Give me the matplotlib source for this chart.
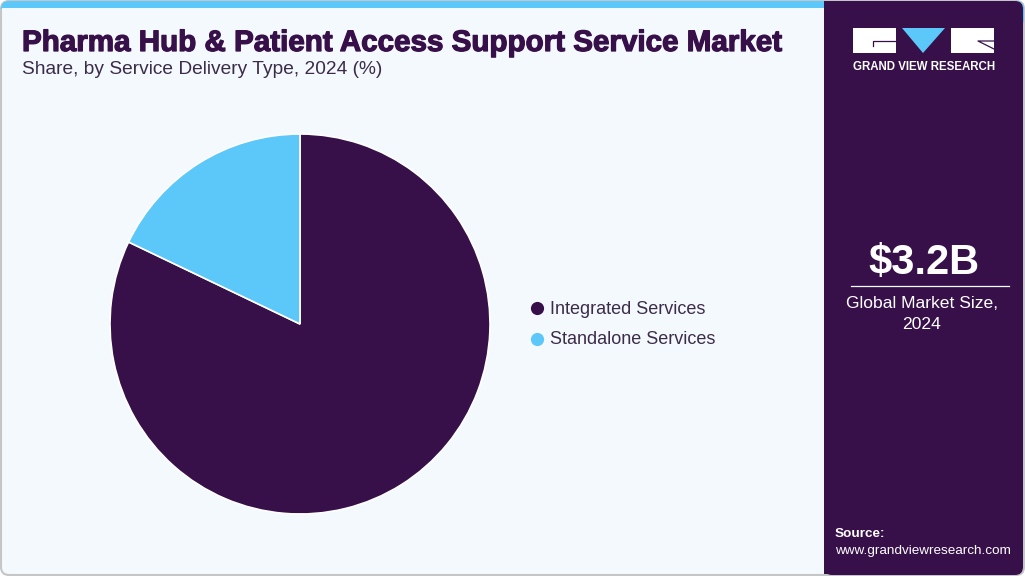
import matplotlib
matplotlib.use("Agg")
import matplotlib.pyplot as plt
import matplotlib.patheffects as pe
from matplotlib.patches import FancyBboxPatch, Polygon, Rectangle

# values
segments = ["Integrated Services", "Standalone Services"]
shares = [82.1, 17.9]
seg_colors = ["#37104a", "#5bc8f9"]

title = "Pharma Hub & Patient Access Support Service Market"
subtitle = "Share, by Service Delivery Type, 2024 (%)"
market_size = "$3.2B"
market_label = "Global Market Size,\n2024"

W, H = 1025, 576
DARK = "#37104a"
BLUE = "#5bc8f9"

plt.rcParams["font.family"] = ["Liberation Sans", "DejaVu Sans"]

fig = plt.figure(figsize=(W / 100, H / 100), dpi=100, facecolor="white")

# background layer in pixel coordinates, y going down
bg = fig.add_axes([0, 0, 1, 1])
bg.set_xlim(0, W)
bg.set_ylim(H, 0)
bg.axis("off")

bg.add_patch(FancyBboxPatch((9, 9), W - 18, H - 18, boxstyle="round,pad=8,rounding_size=8",
                            fc="#f3f9fd", ec="#c4c6c8", lw=1.5))
bg.add_patch(FancyBboxPatch((9, 9), W - 18, 10, boxstyle="round,pad=8,rounding_size=8",
                            fc=BLUE, ec="none"))
bg.add_patch(Rectangle((2, 8), 822, 20, fc="#f3f9fd", ec="none"))
bg.plot([1, 1], [10, 30], color="#c4c6c8", lw=1.5)

# right panel
bg.add_patch(FancyBboxPatch((832, 9), W - 842, H - 18, boxstyle="round,pad=8,rounding_size=8",
                            fc=DARK, ec="none"))
bg.add_patch(Rectangle((824, 1), 12, H - 3, fc=DARK, ec="none"))

# logo
bg.add_patch(Rectangle((853, 28), 43, 25, fc="white", ec="none"))
bg.plot([896, 873, 873], [41, 41, 46], color=DARK, lw=0.9)
bg.add_patch(Polygon([[902, 28], [945, 28], [923, 53]], fc=BLUE, ec="none"))
bg.add_patch(Rectangle((951, 28), 43, 25, fc="white", ec="none"))
bg.plot([994, 978, 994], [49, 41, 41], color=DARK, lw=0.9)
bg.text(924, 67, "GRAND VIEW RESEARCH", color="white", fontsize=8.3, weight="bold",
        ha="center", va="center")

# heading
bg.text(22, 43, title, color=DARK, fontsize=21.3, weight="bold", ha="left", va="center",
        path_effects=[pe.withStroke(linewidth=0.9, foreground=DARK)])
bg.text(22, 70, subtitle, color="#3d2c49", fontsize=13.8, ha="left", va="center")

# side panel figures
bg.text(924, 263, market_size, color="white", fontsize=30, weight="bold", ha="center", va="center")
bg.plot([851, 1009], [286, 286], color="white", lw=0.9)
bg.text(922, 314, market_label, color="white", fontsize=12.6, ha="center", va="center",
        linespacing=1.45)
bg.text(835, 534, "Source:", color="white", fontsize=9.7, weight="bold", ha="left", va="center")
bg.text(835, 551, "www.grandviewresearch.com", color="white", fontsize=9.7, ha="left", va="center")

# pie
cx, cy, r = 300, 324, 190
ax = fig.add_axes([(cx - r) / W, 1 - (cy + r) / H, 2 * r / W, 2 * r / H])
ax.pie(shares, colors=seg_colors, startangle=90, counterclock=False, radius=1,
       wedgeprops={"edgecolor": "white", "linewidth": 1.2})
ax.set_xlim(-1, 1)
ax.set_ylim(-1, 1)

# legend
for name, color, y in zip(segments, seg_colors, [308, 339]):
    bg.scatter([537], [y], s=90, color=color, linewidths=0)
    bg.text(550, y + 1, name, color="#3d2c49", fontsize=12.95, ha="left", va="center")

fig.savefig("out.png", dpi=100)
plt.close(fig)
